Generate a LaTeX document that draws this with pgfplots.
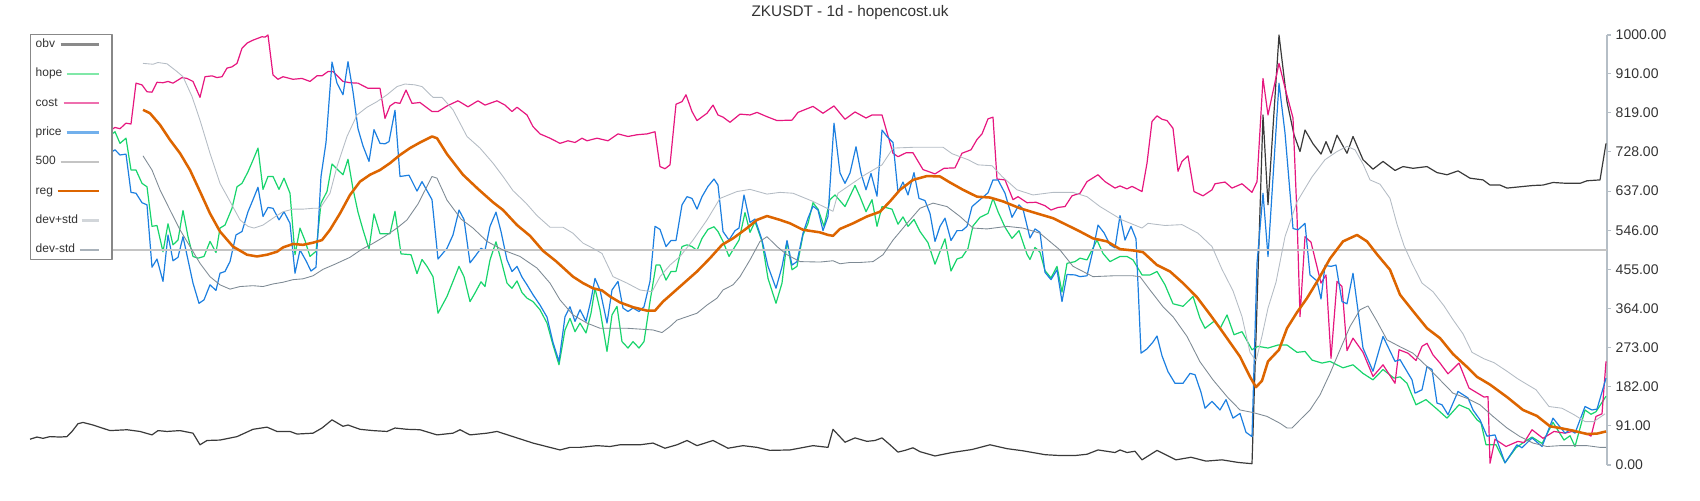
\documentclass[border=0pt]{standalone}
\usepackage{fontspec}
\setmainfont{Liberation Sans}
\usepackage{pgfplots}
\pgfplotsset{compat=1.18}

\definecolor{obvc}{HTML}{3A3A3A}
\definecolor{obvL}{HTML}{8A8A8A}
\definecolor{hopec}{HTML}{18D46C}
\definecolor{hopeL}{HTML}{80E8A8}
\definecolor{costc}{HTML}{E6177F}
\definecolor{costL}{HTML}{EE6FAE}
\definecolor{pricec}{HTML}{1C7FE0}
\definecolor{priceL}{HTML}{72B0EC}
\definecolor{fivec}{HTML}{C4C4C4}
\definecolor{regc}{HTML}{DD6500}
\definecolor{devpc}{HTML}{B4BCC4}
\definecolor{devpL}{HTML}{D2D6DA}
\definecolor{devmc}{HTML}{7E8A94}
\definecolor{devmL}{HTML}{A9B2BA}
\definecolor{axgray}{HTML}{B5BEC6}
\definecolor{txtgray}{HTML}{333333}
\definecolor{boxgray}{HTML}{888888}

% legend sample: colour, how far the line reaches left of the image column
\pgfplotsset{
  limg/.style 2 args={draw=#1, line width=1.6pt,
    legend image code/.code={
      \path[draw=none] (0pt,0pt) -- (20pt,0pt);
      \draw[draw=#1,line width=1.6pt,overlay] (-#2,0pt) -- (13pt,0pt);}},
}

\begin{document}
\begin{tikzpicture}
\path[use as bounding box] (-22.5pt,-26.25pt) rectangle (1252.5pt,348.75pt);
\begin{axis}[
  at={(0pt,0pt)}, anchor=south west,
  width=1182.75pt, height=322.5pt, scale only axis,
  xmin=30, xmax=1607, ymin=0, ymax=1000,
  clip=false,
  axis x line=none, axis y line=right,
  y axis line style={-, draw=axgray, line width=1.1pt},
  xtick=\empty,
  ytick={0,91,182,273,364,455,546,637,728,819,910,1000},
  tick align=outside, major tick length=3pt,
  ytick style={draw=axgray, line width=0.8pt},
  yticklabel style={font=\fontsize{10.5}{12}\selectfont, text=txtgray,
    /pgf/number format/.cd, fixed, fixed zerofill, precision=2, 1000 sep={},
    assume math mode=true},
  title={ZKUSDT - 1d - hopencost.uk},
  title style={at={(axis description cs:0.52,1)}, anchor=base, yshift=7.7pt,
    font=\fontsize{11.5}{13}\selectfont, text=txtgray},
  legend style={at={(axis description cs:0,1)}, anchor=north west,
    yshift=0.75pt,
    draw=boxgray, line width=1pt, fill=white,
    inner xsep=2.75pt, inner ysep=2.1pt, row sep=11.5pt, column sep=1.75pt,
    font=\fontsize{9}{10}\selectfont,
    nodes={inner sep=1pt, text height=6.5pt, text depth=2pt, text=txtgray}},
  legend cell align=left, legend plot pos=right,
  line join=round,
]
\addlegendimage{limg={obvL}{15.75pt}}
\addlegendentry{obv}
\addlegendimage{limg={hopeL}{11.25pt}}
\addlegendentry{hope}
\addlegendimage{limg={costL}{13.5pt}}
\addlegendentry{cost}
\addlegendimage{limg={priceL}{11.25pt}}
\addlegendentry{price}
\addlegendimage{limg={fivec}{15.75pt}}
\addlegendentry{500}
\addlegendimage{limg={regc}{18pt}}
\addlegendentry{reg}
\addlegendimage{limg={devpL}{0pt}}
\addlegendentry{dev+std}
\addlegendimage{limg={devmL}{1.5pt}}
\addlegendentry{dev-std}
% obv
\addplot[obvc, line width=0.9pt, forget plot] coordinates {
(30,60) (37,65) (43,62) (50,66) (60,65) (67,66) (72,78) (78,96) (83,99) (93,93)
(110,80) (127,82) (140,78) (152,70) (158,80) (167,78) (180,80) (193,74) (200,47)
(207,57) (220,58) (237,66) (253,83) (267,88) (277,78) (290,78) (297,72) (313,74)
(322,86) (332,105) (343,90) (348,93) (360,83) (373,80) (387,78) (395,86) (407,83)
(420,82) (437,70) (453,74) (460,82) (470,70) (487,74) (497,78) (513,66) (533,51)
(560,35) (570,41) (580,41) (597,45) (610,43) (620,47) (640,47) (653,51) (665,39)
(677,47) (687,57) (697,45) (713,57) (728,39) (743,45) (757,41) (770,34) (790,35)
(813,45) (828,41) (833,83) (845,53) (855,63) (867,55) (875,57) (882,63) (890,47)
(898,30) (905,34) (913,40) (920,31) (935,21) (952,29) (972,36) (990,47) (1007,38)
(1023,33) (1045,24) (1060,22) (1075,22) (1087,25) (1098,35) (1115,29) (1120,35)
(1127,29) (1135,32) (1142,12) (1157,34) (1176,12) (1191,18) (1206,9) (1222,12)
(1238,6) (1252,3) (1263,814) (1268,605) (1279,1000) (1287,845) (1294,768) (1300,729)
(1305,779) (1313,747) (1321,723) (1326,752) (1331,725) (1337,767) (1347,725)
(1353,764) (1363,710) (1373,688) (1383,706) (1395,685) (1403,694) (1413,690)
(1427,694) (1437,680) (1447,675) (1458,684) (1470,667) (1483,663) (1490,651)
(1500,651) (1507,644) (1520,647) (1533,650) (1543,651) (1553,657) (1567,655)
(1580,655) (1587,661) (1600,663) (1606,748)};
% hope
\addplot[hopec, line width=0.9pt, forget plot] coordinates {
(111,768) (115,775) (120,748) (126,760) (131,686) (136,686) (142,655) (147,647)
(152,555) (157,557) (163,496) (168,561) (173,512) (178,523) (183,592) (188,531)
(193,485) (198,481) (204,485) (210,520) (216,494) (220,551) (225,558) (232,597)
(237,647) (242,655) (248,682) (253,709) (258,737) (263,641) (268,671) (273,671)
(279,641) (284,667) (290,632) (295,489) (300,551) (305,522) (310,485) (316,497)
(321,609) (327,636) (332,700) (338,686) (343,675) (348,711) (353,642) (358,588)
(363,547) (369,502) (374,584) (380,538) (390,538) (395,590) (401,491) (411,489)
(417,445) (422,478) (427,462) (433,438) (438,353) (447,392) (453,427) (459,462)
(464,438) (470,380) (475,400) (481,426) (485,415) (490,477) (496,519) (501,477)
(507,423) (512,411) (517,428) (522,401) (527,388) (533,380) (540,361) (547,330)
(553,279) (559,233) (565,314) (570,341) (575,310) (580,330) (586,307) (591,353)
(595,411) (600,361) (607,264) (612,349) (617,369) (622,287) (628,272) (633,287)
(639,272) (644,287) (650,380) (656,465) (660,465) (666,430) (671,450) (676,450)
(682,508) (687,512) (692,508) (697,499) (702,527) (708,548) (714,554) (718,543)
(723,520) (729,485) (735,508) (739,523) (745,587) (750,541) (755,566) (762,520)
(768,434) (776,376) (782,423) (787,520) (792,454) (797,462) (803,535) (808,562)
(813,610) (818,595) (824,555) (830,617) (835,628) (845,601) (855,650) (860,624)
(866,589) (872,617) (877,555) (882,601) (892,595) (898,560) (903,577) (908,555)
(914,571) (920,543) (928,517) (935,467) (945,526) (951,451) (957,479) (962,483)
(968,504) (973,556) (980,576) (988,585) (993,620) (998,589) (1005,553) (1012,527)
(1019,545) (1027,490) (1030,478) (1035,506) (1040,495) (1045,452) (1051,435)
(1057,462) (1062,402) (1067,469) (1075,473) (1080,481) (1087,477) (1092,500)
(1097,523) (1103,492) (1110,473) (1120,485) (1127,485) (1133,477) (1142,442)
(1150,442) (1157,450) (1165,419) (1173,375) (1183,369) (1193,392) (1200,341)
(1205,318) (1215,336) (1220,317) (1227,349) (1234,303) (1242,310) (1252,268)
(1258,276) (1268,272) (1278,279) (1287,279) (1297,262) (1305,264) (1312,244)
(1322,237) (1330,241) (1343,226) (1353,233) (1363,213) (1373,198) (1383,222)
(1394,202) (1400,205) (1407,190) (1416,140) (1426,152) (1437,130) (1447,109)
(1459,140) (1469,130) (1477,105) (1481,98) (1486,47) (1496,47) (1505,5) (1516,40)
(1522,50) (1532,65) (1542,50) (1553,99) (1564,58) (1570,68) (1575,43) (1585,128)
(1591,118) (1596,124) (1606,160)};
% cost
\addplot[costc, line width=0.9pt, forget plot] coordinates {
(111,779) (115,785) (120,782) (126,795) (131,793) (136,888) (142,884) (147,868)
(152,867) (157,890) (163,889) (168,892) (173,888) (182,901) (187,899) (193,892)
(200,855) (205,903) (212,905) (217,901) (222,903) (227,923) (232,926) (237,934)
(242,969) (247,981) (253,988) (262,996) (265,995) (268,1000) (273,907) (278,897)
(283,903) (293,897) (302,899) (310,892) (317,905) (322,905) (328,915) (333,915)
(343,892) (350,889) (358,888) (368,876) (380,876) (385,806) (390,835) (395,843)
(400,841) (406,872) (412,841) (420,843) (432,822) (438,822) (447,835) (458,847)
(468,833) (478,847) (485,837) (497,847) (505,837) (512,822) (517,832) (527,814)
(533,787) (540,770) (550,760) (560,748) (568,754) (575,750) (582,760) (587,754)
(597,760) (608,754) (618,770) (628,764) (637,768) (647,770) (655,775) (660,694)
(665,689) (670,698) (676,839) (682,845) (686,861) (692,822) (697,801) (707,818)
(713,837) (718,814) (723,809) (730,797) (740,816) (750,814) (757,820) (767,810)
(777,801) (792,802) (798,820) (813,834) (823,818) (834,835) (845,804) (855,821)
(866,807) (872,814) (882,814) (893,725) (898,717) (906,726) (913,726) (923,687)
(935,677) (944,690) (955,691) (962,725) (971,733) (977,757) (982,770) (988,805)
(993,809) (997,665) (1005,663) (1013,617) (1018,624) (1027,610) (1036,611)
(1045,603) (1051,593) (1058,599) (1065,601) (1072,626) (1080,632) (1087,659)
(1098,675) (1105,659) (1115,644) (1120,649) (1127,642) (1132,648) (1142,636)
(1147,702) (1152,799) (1157,812) (1162,804) (1167,801) (1173,783) (1178,683)
(1182,706) (1188,719) (1194,636) (1203,626) (1212,640) (1215,654) (1225,658)
(1232,644) (1242,654) (1252,634) (1257,659) (1263,899) (1268,814) (1279,934)
(1286,868) (1293,807) (1297,580) (1300,345) (1305,531) (1311,518) (1321,423)
(1326,442) (1331,248) (1337,427) (1342,415) (1347,266) (1353,295) (1363,262)
(1373,206) (1383,233) (1395,190) (1399,268) (1408,260) (1416,243) (1422,276)
(1427,283) (1433,256) (1440,237) (1448,212) (1459,237) (1469,179) (1484,158)
(1488,159) (1490,4) (1495,60) (1506,43) (1518,55) (1524,52) (1532,82) (1543,62)
(1554,78) (1565,74) (1572,78) (1579,76) (1586,74) (1591,67) (1596,113) (1602,119)
(1606,241)};
% price
\addplot[pricec, line width=0.9pt, forget plot] coordinates {
(111,727) (115,733) (120,721) (126,723) (131,634) (136,632) (142,610) (147,605)
(152,460) (157,479) (163,427) (168,535) (173,475) (178,483) (183,531) (188,477)
(193,423) (199,376) (204,384) (210,419) (216,406) (220,446) (225,450) (230,473)
(236,535) (242,543) (248,589) (253,617) (258,646) (263,578) (268,599) (273,597)
(279,570) (284,589) (290,562) (295,446) (300,500) (306,475) (311,451) (316,460)
(321,671) (326,750) (332,937) (337,888) (343,861) (348,938) (353,868) (358,782)
(363,742) (369,706) (374,780) (380,748) (385,747) (389,752) (395,825) (400,671)
(409,674) (417,637) (422,659) (432,617) (438,479) (447,504) (453,535) (459,593)
(464,571) (470,470) (475,485) (481,504) (485,499) (490,555) (496,588) (501,543)
(507,477) (512,450) (517,462) (522,437) (527,419) (533,396) (540,372) (547,344)
(553,285) (559,241) (565,345) (570,368) (575,334) (580,361) (586,334) (591,384)
(595,434) (600,407) (607,330) (612,407) (618,427) (623,365) (628,357) (633,365)
(639,357) (644,368) (650,427) (655,555) (660,548) (666,508) (671,522) (676,522)
(682,605) (687,624) (692,620) (697,595) (702,624) (708,648) (714,665) (718,651)
(723,543) (729,523) (735,545) (739,551) (744,628) (750,564) (755,572) (762,523)
(768,462) (776,411) (782,461) (787,522) (792,465) (797,473) (803,539) (808,574)
(813,602) (818,593) (823,545) (828,578) (834,795) (840,679) (845,655) (850,679)
(856,740) (861,679) (866,640) (871,678) (877,625) (882,779) (887,764) (893,750)
(898,634) (903,658) (908,628) (914,680) (919,620) (925,615) (930,585) (935,520)
(940,555) (945,574) (951,522) (957,545) (962,545) (967,555) (972,601) (980,617)
(988,633) (993,663) (998,663) (1005,632) (1012,576) (1019,605) (1023,595)
(1030,528) (1035,549) (1040,541) (1045,448) (1051,431) (1057,454) (1062,380)
(1067,443) (1075,442) (1080,438) (1087,440) (1093,500) (1098,558) (1104,540)
(1110,512) (1115,505) (1120,580) (1125,523) (1131,555) (1136,526) (1141,260)
(1147,270) (1153,286) (1157,300) (1162,254) (1168,217) (1175,190) (1183,190)
(1190,213) (1195,210) (1201,169) (1205,132) (1212,148) (1220,128) (1226,152)
(1233,109) (1240,120) (1246,76) (1252,66) (1257,469) (1263,632) (1268,485)
(1279,888) (1285,772) (1293,550) (1298,547) (1305,562) (1310,442) (1317,428)
(1321,386) (1325,464) (1331,462) (1336,465) (1342,380) (1347,375) (1353,446)
(1363,272) (1373,218) (1383,299) (1395,241) (1400,245) (1412,198) (1415,167)
(1422,175) (1427,229) (1432,222) (1437,144) (1442,140) (1448,117) (1458,171)
(1468,156) (1473,128) (1480,105) (1487,67) (1495,70) (1505,5) (1517,47) (1522,40)
(1532,63) (1542,43) (1553,109) (1565,74) (1570,82) (1575,74) (1585,136) (1592,128)
(1597,130) (1606,202)};
% 500
\addplot[fivec, line width=1.3pt, forget plot] coordinates {
(30,500) (1607,500)};
% reg
\addplot[regc, line width=1.9pt, forget plot] coordinates {
(143,826) (150,818) (160,791) (170,756) (180,725) (190,686) (200,636) (210,585)
(220,543) (233,508) (247,489) (257,485) (267,489) (277,496) (283,506) (293,514)
(303,512) (313,517) (322,523) (330,547) (340,585) (350,628) (360,659) (370,675)
(380,686) (390,702) (400,721) (410,737) (420,750) (432,764) (437,760) (447,723)
(463,675) (478,642) (493,611) (503,593) (517,558) (530,533) (543,498) (556,474)
(573,438) (583,423) (593,411) (602,406) (610,392) (620,378) (633,367) (647,359)
(655,359) (663,380) (680,415) (697,450) (710,481) (722,512) (733,527) (747,551)
(757,570) (767,579) (780,570) (790,562) (803,547) (820,541) (828,535) (833,533)
(840,549) (853,562) (867,578) (880,589) (890,613) (900,640) (913,663) (927,672)
(940,671) (950,657) (963,640) (977,624) (990,622) (1003,613) (1020,597) (1037,585)
(1053,574) (1067,558) (1080,543) (1093,527) (1107,520) (1120,502) (1133,499)
(1143,495) (1157,465) (1170,450) (1183,423) (1197,390) (1210,350) (1220,318)
(1230,285) (1240,252) (1250,205) (1256,181) (1262,196) (1268,241) (1279,268)
(1287,318) (1297,355) (1307,388) (1318,430) (1330,480) (1343,520) (1357,535)
(1367,520) (1377,490) (1390,454) (1400,396) (1413,358) (1427,318) (1440,295)
(1453,258) (1467,228) (1477,205) (1490,187) (1507,158) (1523,128) (1537,114)
(1550,90) (1560,86) (1573,80) (1587,72) (1597,73) (1606,78)};
% dev+std
\addplot[devpc, line width=0.65pt, forget plot] coordinates {
(143,934) (153,932) (158,936) (167,933) (177,915) (183,903) (192,857) (200,802)
(210,725) (220,655) (230,613) (240,570) (248,555) (254,551) (263,558) (273,574)
(283,589) (293,595) (303,595) (313,597) (320,597) (330,632) (337,694) (347,764)
(357,814) (367,832) (377,845) (387,861) (397,880) (405,886) (415,884) (422,880)
(433,855) (442,855) (453,826) (467,764) (480,737) (493,702) (503,671) (513,638)
(526,609) (537,580) (550,553) (563,553) (573,539) (583,516) (593,504) (602,492)
(613,438) (627,423) (640,407) (652,403) (660,438) (670,465) (680,485) (693,523)
(707,570) (720,620) (737,636) (750,641) (767,630) (780,634) (793,632) (813,613)
(833,590) (838,632) (848,648) (865,675) (882,698) (893,737) (915,739) (943,739)
(952,724) (968,710) (978,698) (992,696) (1002,671) (1017,640) (1033,628)
(1053,634) (1073,634) (1087,624) (1100,601) (1122,570) (1142,551) (1148,562)
(1165,557) (1182,559) (1198,539) (1212,508) (1222,455) (1233,405) (1242,345)
(1250,262) (1256,242) (1262,300) (1268,365) (1276,425) (1285,531) (1297,612)
(1312,670) (1325,710) (1337,729) (1347,741) (1355,733) (1363,700) (1370,663)
(1380,653) (1390,620) (1397,560) (1404,510) (1412,469) (1422,423) (1433,403)
(1444,370) (1453,338) (1463,305) (1472,262) (1484,247) (1494,238) (1507,218)
(1518,200) (1536,175) (1549,136) (1562,132) (1574,117) (1585,101) (1594,101)
(1605,119)};
% dev-std
\addplot[devmc, line width=0.65pt, forget plot] coordinates {
(143,719) (152,686) (160,640) (170,593) (180,547) (190,508) (200,469) (210,438)
(220,419) (230,409) (240,415) (253,417) (263,415) (273,421) (283,425) (293,431)
(303,433) (313,440) (323,455) (335,467) (350,483) (362,502) (372,514) (385,532)
(397,551) (407,570) (418,607) (432,671) (437,667) (447,616) (461,572) (473,551)
(487,520) (503,500) (520,485) (537,458) (550,423) (560,384) (573,349) (587,330)
(600,318) (627,318) (653,314) (662,308) (670,322) (677,337) (687,345) (697,353)
(707,372) (717,388) (723,407) (733,419) (740,438) (750,477) (760,520) (767,531)
(777,508) (787,489) (800,473) (820,472) (833,475) (840,468) (850,471) (860,471)
(873,473) (883,489) (893,523) (907,562) (920,597) (933,609) (947,601) (960,578)
(973,551) (987,549) (1007,555) (1023,551) (1040,539) (1060,500) (1073,462)
(1093,438) (1113,440) (1133,440) (1140,438) (1150,407) (1163,368) (1173,345)
(1187,299) (1200,240) (1213,198) (1227,159) (1240,128) (1253,122) (1267,113)
(1280,97) (1287,86) (1292,86) (1300,105) (1310,128) (1320,163) (1330,213)
(1340,268) (1350,322) (1360,361) (1368,370) (1377,334) (1387,291) (1400,275)
(1413,260) (1427,229) (1440,198) (1453,167) (1467,155) (1480,140) (1493,113)
(1507,86) (1520,66) (1533,51) (1547,43) (1560,45) (1573,45) (1587,45) (1600,41)
(1606,41)};
\end{axis}
\end{tikzpicture}
\end{document}
